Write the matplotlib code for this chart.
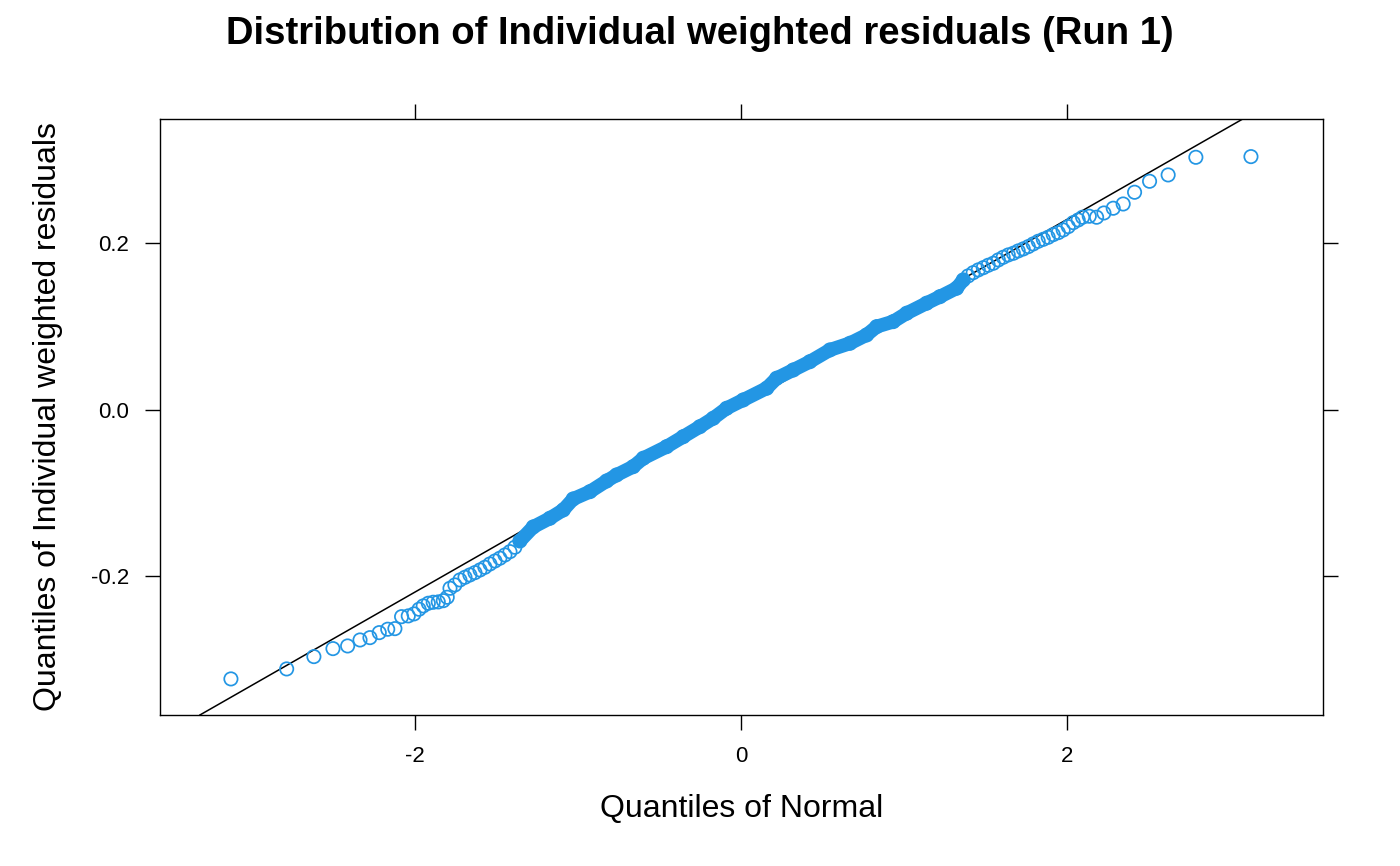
import matplotlib
matplotlib.use("Agg")
import matplotlib.pyplot as plt
import numpy as np

# ---- data (theoretical quantile, residual quantile) ----
tail_lo_x = [-3.129, -2.787, -2.620, -2.503, -2.413, -2.337, -2.276, -2.219,
             -2.167, -2.123, -2.082, -2.041, -2.006, -1.975, -1.949, -1.918,
             -1.888, -1.857, -1.826, -1.802, -1.785, -1.755]
tail_lo_y = [-0.3231, -0.3111, -0.2963, -0.2867, -0.2835, -0.2763, -0.2735, -0.2675,
             -0.2634, -0.2627, -0.2483, -0.2474, -0.2450, -0.2394, -0.2354, -0.2322,
             -0.2310, -0.2306, -0.2291, -0.2250, -0.2142, -0.2102]

ring_lo_x = [-1.724, -1.693, -1.663, -1.632, -1.601, -1.571, -1.540, -1.509,
             -1.479, -1.448, -1.417, -1.387, -1.356]
ring_lo_y = [-0.2042, -0.2010, -0.1982, -0.1954, -0.1922, -0.1890, -0.1850, -0.1814,
             -0.1781, -0.1742, -0.1702, -0.1649, -0.1574]

core_x = [-1.274, -1.172, -1.090, -1.029, -0.926, -0.824, -0.763, -0.661,
          -0.599, -0.456, -0.354, -0.252, -0.170, -0.088, 0.014, 0.158,
          0.219, 0.321, 0.423, 0.546, 0.669, 0.771, 0.833, 0.934,
          1.017, 1.139, 1.221, 1.323]
core_y = [-0.1405, -0.1301, -0.1201, -0.1069, -0.0981, -0.0853, -0.0781, -0.0681,
          -0.0580, -0.0441, -0.0321, -0.0201, -0.0100, 0.0020, 0.0120, 0.0261,
          0.0381, 0.0480, 0.0580, 0.0721, 0.0801, 0.0901, 0.1001, 0.1061,
          0.1162, 0.1282, 0.1361, 0.1462]

ring_hi_x = [1.364, 1.394, 1.425, 1.456, 1.487, 1.517, 1.548, 1.579,
             1.609, 1.640, 1.671, 1.701, 1.732, 1.763, 1.793, 1.824,
             1.855, 1.885, 1.916, 1.947, 1.977, 2.008, 2.039, 2.069]
ring_hi_y = [0.1562, 0.1610, 0.1649, 0.1682, 0.1709, 0.1738, 0.1762, 0.1802,
             0.1834, 0.1862, 0.1882, 0.1910, 0.1934, 0.1962, 0.1994, 0.2026,
             0.2050, 0.2074, 0.2106, 0.2130, 0.2162, 0.2202, 0.2250, 0.2282]

tail_hi_x = [2.096, 2.137, 2.182, 2.227, 2.284, 2.345, 2.415, 2.507,
             2.621, 2.791, 3.129]
tail_hi_y = [0.2315, 0.2327, 0.2315, 0.2366, 0.2423, 0.2474, 0.2615, 0.2747,
             0.2823, 0.3035, 0.3043]

# reference line (through the quartiles)
line_icpt = 0.005
line_slope = 0.1119

xticks = [-2, 0, 2]
yticks = [-0.2, 0.0, 0.2]

pt_col = "#2396e4"

#<--------------------------- Plot ---------------------------------------->
plt.rcParams['font.family'] = ['Liberation Sans', 'DejaVu Sans']

fig = plt.figure(figsize=(14, 8.66), dpi=100)
ax = fig.add_axes([0.1143, 0.1744, 0.8307, 0.6882])

all_x = np.concatenate([tail_lo_x, ring_lo_x, core_x, ring_hi_x, tail_hi_x])
all_y = np.concatenate([tail_lo_y, ring_lo_y, core_y, ring_hi_y, tail_hi_y])

ax.axline((0, line_icpt), slope=line_slope, color='black', lw=1.1, zorder=1)

# the dense middle of the sample shows as a solid band
band_x = [ring_lo_x[-1]] + core_x + [ring_hi_x[0]]
band_y = [ring_lo_y[-1]] + core_y + [ring_hi_y[0]]
ax.plot(band_x, band_y, color=pt_col, lw=10, solid_capstyle='round',
        solid_joinstyle='round', zorder=2)
ax.scatter(all_x, all_y, s=92, facecolors='none', edgecolors=pt_col,
           linewidths=1.25, zorder=3)

ax.set_xlim(-3.564, 3.571)
ax.set_ylim(-0.3664, 0.3495)
ax.set_xticks(xticks)
ax.set_xticklabels(['-2', '0', '2'])
ax.set_yticks(yticks)
ax.set_yticklabels(['-0.2', '0.0', '0.2'])
ax.tick_params(direction='out', length=11, width=1, labelsize=16, pad=11,
               top=True, right=True, labeltop=False, labelright=False)
for s in ax.spines.values():
    s.set_linewidth(1)

ax.set_xlabel('Quantiles of Normal', fontsize=23, labelpad=20)
ax.set_ylabel('Quantiles of Individual weighted residuals', fontsize=23, labelpad=20)
fig.text(0.5, 0.961, 'Distribution of Individual weighted residuals (Run 1)',
         ha='center', va='center', fontsize=27.5, fontweight='bold')

fig.savefig('out.png', dpi=100)
